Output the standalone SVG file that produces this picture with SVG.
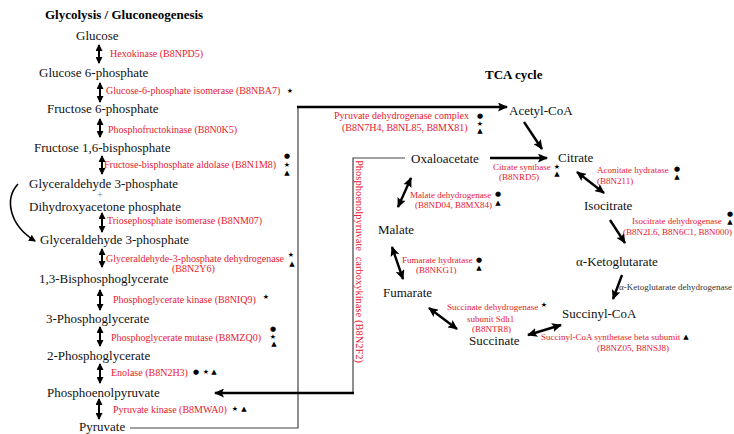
<svg xmlns="http://www.w3.org/2000/svg" width="734" height="434" viewBox="0 0 734 434">
<style>
.m{font-family:"Liberation Serif","Times New Roman",serif;font-size:13px;fill:#111}
.t{font-family:"Liberation Serif","Times New Roman",serif;font-size:13px;font-weight:bold;fill:#000}
.e{font-family:"Liberation Serif","Times New Roman",serif;font-size:10px;fill:#e8202f}
.s{font-family:"Liberation Serif","Times New Roman",serif;font-size:9px;fill:#e8202f}
.k{font-family:"Liberation Serif","Times New Roman",serif;font-size:9px;fill:#333}
.y{font-family:"DejaVu Sans",sans-serif;font-size:7px;fill:#000;text-anchor:middle;dominant-baseline:central}
.v{stroke:#000;stroke-width:2;fill:none;marker-start:url(#a1);marker-end:url(#a1)}
.c{stroke:#000;stroke-width:2.4;fill:none}
.thin{stroke:#444;stroke-width:1.2;fill:none}
</style>
<defs>
<marker id="a1" markerUnits="userSpaceOnUse" viewBox="0 0 7 7" refX="6" refY="3.5" markerWidth="7" markerHeight="7" orient="auto-start-reverse"><path d="M0,0 L7,3.5 L0,7 Z" fill="#000"/></marker>
<marker id="a2" markerUnits="userSpaceOnUse" viewBox="0 0 10 9" refX="9" refY="4.5" markerWidth="10" markerHeight="9" orient="auto-start-reverse"><path d="M0,0 L10,4.5 L0,9 L2,4.5 Z" fill="#000"/></marker>
</defs>

<text class="t" x="45" y="19">Glycolysis / Gluconeogenesis</text>
<text class="t" x="485" y="79">TCA cycle</text>

<g id="connectors">
<line class="v" x1="99" y1="45" x2="99" y2="63"/>
<line class="v" x1="100" y1="83" x2="100" y2="102"/>
<line class="v" x1="100" y1="119" x2="100" y2="137"/>
<line class="v" x1="102" y1="156" x2="102" y2="174"/>
<line class="v" x1="102" y1="213" x2="102" y2="232"/>
<line class="v" x1="102" y1="249" x2="102" y2="267"/>
<line class="v" x1="100" y1="290" x2="100" y2="310"/>
<line class="v" x1="100" y1="327" x2="100" y2="346"/>
<line class="v" x1="100" y1="364" x2="100" y2="383"/>
<line class="v" x1="99" y1="399" x2="99" y2="419"/>
<path d="M18,184 C5,198 8,224 35,241" stroke="#000" stroke-width="1.6" fill="none" marker-end="url(#a1)"/>
<path class="thin" d="M130,428 H298 V107"/>
<path class="c" d="M297,107 H507" marker-end="url(#a2)"/>
<path class="thin" d="M405,158 H353 V393" stroke-width="1.5"/>
<path class="c" d="M354,393 H215" marker-end="url(#a2)"/>
<line class="c" x1="524" y1="122" x2="542" y2="149" marker-end="url(#a2)"/>
<line class="c" x1="490" y1="158" x2="547" y2="158" marker-end="url(#a2)"/>
<line class="c" x1="577" y1="172" x2="604" y2="193" marker-start="url(#a2)" marker-end="url(#a2)"/>
<line class="c" x1="610" y1="220" x2="625" y2="243" marker-end="url(#a2)"/>
<line class="c" x1="622" y1="275" x2="613" y2="299" marker-end="url(#a2)"/>
<line class="c" x1="528" y1="335" x2="561" y2="325" marker-start="url(#a2)" marker-end="url(#a2)"/>
<line class="c" x1="429" y1="308" x2="457" y2="329" marker-start="url(#a2)" marker-end="url(#a2)"/>
<line class="c" x1="392" y1="247" x2="403" y2="279" marker-start="url(#a2)" marker-end="url(#a2)"/>
<line class="c" x1="411" y1="178" x2="398" y2="207" marker-start="url(#a2)" marker-end="url(#a2)"/>
</g>

<g id="glucose"><text class="m" x="76" y="40">Glucose</text></g>
<g id="g6p"><text class="m" x="39" y="77">Glucose 6-phosphate</text></g>
<g id="f6p"><text class="m" x="47" y="113">Fructose 6-phosphate</text></g>
<g id="f16bp"><text class="m" x="34" y="152">Fructose 1,6-bisphosphate</text></g>
<g id="gap1"><text class="m" x="29" y="188">Glyceraldehyde 3-phosphate</text></g>
<g id="plus"><text class="m" x="100" y="198" text-anchor="middle" style="fill:#777;font-size:10px">+</text></g>
<g id="dhap"><text class="m" x="29" y="211">Dihydroxyacetone phosphate</text></g>
<g id="gap2"><text class="m" x="40" y="244">Glyceraldehyde 3-phosphate</text></g>
<g id="bpg"><text class="m" x="39" y="283">1,3-Bisphosphoglycerate</text></g>
<g id="pg3"><text class="m" x="46" y="323">3-Phosphoglycerate</text></g>
<g id="pg2"><text class="m" x="47" y="360">2-Phosphoglycerate</text></g>
<g id="pep"><text class="m" x="47" y="397">Phosphoenolpyruvate</text></g>
<g id="pyruvate"><text class="m" x="79" y="431">Pyruvate</text></g>

<g id="enz-hk"><text class="e" x="110" y="57">Hexokinase (B8NPD5)</text></g>
<g id="enz-gpi"><text class="e" x="106" y="94">Glucose-6-phosphate isomerase (B8NBA7)</text><text class="y" x="290" y="91">★</text></g>
<g id="enz-pfk"><text class="e" x="108" y="133">Phosphofructokinase (B8N0K5)</text></g>
<g id="enz-ald"><text class="e" x="104" y="168">Fructose-bisphosphate aldolase (B8N1M8)</text><text class="y" x="287" y="156">●</text><text class="y" x="287" y="165">★</text><text class="y" x="287" y="173">▲</text></g>
<g id="enz-tpi"><text class="e" x="107" y="224">Triosephosphate isomerase (B8NM07)</text></g>
<g id="enz-gapdh"><text class="e" x="106" y="262">Glyceraldehyde-3-phosphate dehydrogenase</text><text class="e" x="172" y="272">(B8N2Y6)</text><text class="y" x="291" y="255">★</text><text class="y" x="292" y="264">▲</text></g>
<g id="enz-pgk"><text class="e" x="113" y="303">Phosphoglycerate kinase (B8NIQ9)</text><text class="y" x="266" y="297">★</text></g>
<g id="enz-pgm"><text class="e" x="111" y="341">Phosphoglycerate mutase (B8MZQ0)</text><text class="y" x="273" y="329">●</text><text class="y" x="273" y="337">★</text><text class="y" x="274" y="344">▲</text></g>
<g id="enz-eno"><text class="e" x="111" y="376">Enolase (B8N2H3)</text><text class="y" x="196" y="372">●</text><text class="y" x="206" y="372">★</text><text class="y" x="214" y="372">▲</text></g>
<g id="enz-pk"><text class="e" x="113" y="413">Pyruvate kinase (B8MWA0)</text><text class="y" x="235" y="409">★</text><text class="y" x="244" y="409">▲</text></g>

<g id="enz-pepck"><text class="e" transform="translate(356,160) rotate(90)" style="font-size:10.5px">Phosphoenolpyruvate <tspan dx="3">carboxykinase (B8N2F2)</tspan></text></g>
<g id="enz-pdc"><text class="e" x="334" y="119">Pyruvate dehydrogenase complex</text><text class="e" x="342" y="131">(B8N7H4, B8NL85, B8MX81)</text><text class="y" x="480" y="116">●</text><text class="y" x="480" y="124">★</text><text class="y" x="480" y="131">▲</text></g>

<g id="acetylcoa"><text class="m" x="509" y="115">Acetyl-CoA</text></g>
<g id="citrate"><text class="m" x="558" y="162">Citrate</text></g>
<g id="oxaloacetate"><text class="m" x="411" y="163">Oxaloacetate</text></g>
<g id="isocitrate"><text class="m" x="584" y="210">Isocitrate</text></g>
<g id="akg"><text class="m" x="576" y="266">α-Ketoglutarate</text></g>
<g id="succinylcoa"><text class="m" x="562" y="318">Succinyl-CoA</text></g>
<g id="succinate"><text class="m" x="469" y="345">Succinate</text></g>
<g id="fumarate"><text class="m" x="383" y="297">Fumarate</text></g>
<g id="malate"><text class="m" x="378" y="234">Malate</text></g>

<g id="enz-cs"><text class="s" x="493" y="170">Citrate synthase</text><text class="s" x="499" y="180">(B8NRD5)</text><text class="y" x="557" y="167">★</text><text class="y" x="557" y="174">▲</text></g>
<g id="enz-aco"><text class="s" x="597" y="173">Aconitate hydratase</text><text class="s" x="597" y="184">(B8N211)</text><text class="y" x="677" y="169">●</text><text class="y" x="677" y="177">▲</text></g>
<g id="enz-idh"><text class="s" x="632" y="224">Isocitrate dehydrogenase</text><text class="s" x="623" y="235">(B8N2L6, B8N6C1, B8N000)</text><text class="y" x="730" y="214">●</text><text class="y" x="730" y="222">▲</text></g>
<g id="enz-akgdh"><text class="k" x="619" y="290">α-Ketoglutarate dehydrogenase</text></g>
<g id="enz-scs"><text class="s" x="541" y="340">Succinyl-CoA synthetase beta subumit</text><text class="s" x="597" y="351">(B8NZ05, B8NSJ8)</text><text class="y" x="686" y="337">▲</text></g>
<g id="enz-sdh"><text class="s" x="447" y="310">Succinate dehydrogenase</text><text class="s" x="467" y="322">subunit Sdh1</text><text class="s" x="472" y="332">(B8NTR8)</text><text class="y" x="544" y="305">★</text></g>
<g id="enz-fh"><text class="s" x="402" y="263">Fumarate hydratase</text><text class="s" x="416" y="273">(B8NKG1)</text><text class="y" x="479" y="260">●</text><text class="y" x="479" y="268">▲</text></g>
<g id="enz-mdh"><text class="s" x="410" y="198">Malate dehydrogenase</text><text class="s" x="415" y="208">(B8ND04, B8MX84)</text><text class="y" x="498" y="194">●</text><text class="y" x="498" y="203">▲</text></g>
</svg>
